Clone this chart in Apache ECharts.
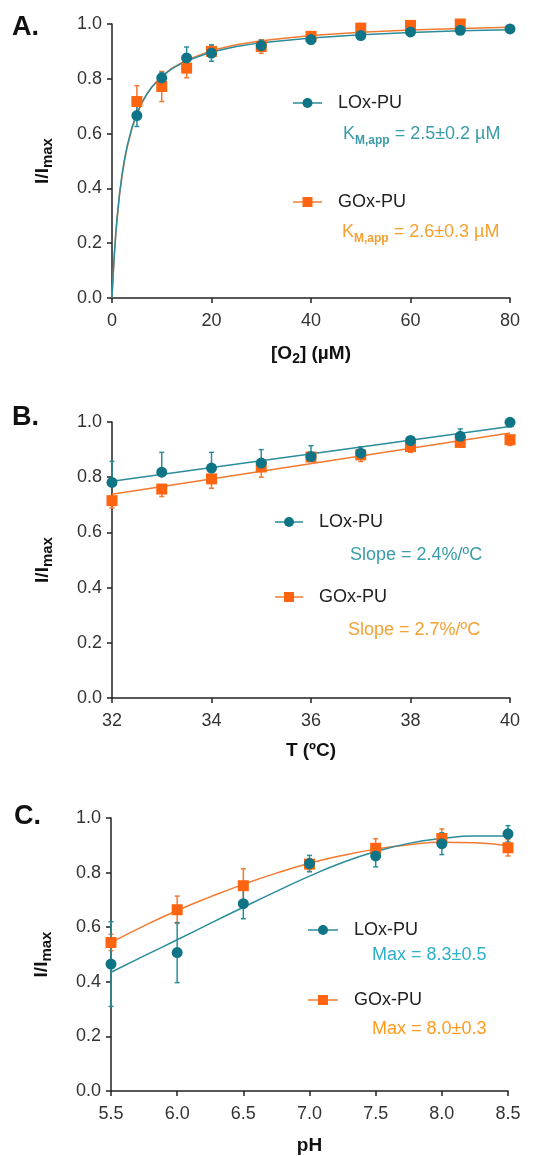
<!DOCTYPE html>
<html><head><meta charset="utf-8">
<script src="https://cdn.jsdelivr.net/npm/echarts@6/dist/echarts.min.js"></script>
<style>html,body{margin:0;padding:0;background:#fff}#c{width:543px;height:1156px}</style>
</head><body><div id="c"></div>
<script>
// ---------- Panel A: [O2] ----------
const aX_LOx = [5, 10, 15, 20, 30, 40, 50, 60, 70, 80];
const aY_LOx = [0.666, 0.803, 0.876, 0.894, 0.921, 0.943, 0.958, 0.971, 0.977, 0.982];
const aE_LOx = [0.04, 0.02, 0.04, 0.03, 0.02, 0.015, 0.01, 0.01, 0.01, 0.005];
const aX_GOx = [5, 10, 15, 20, 30, 40, 50, 60, 70];
const aY_GOx = [0.717, 0.772, 0.839, 0.900, 0.918, 0.955, 0.985, 0.995, 1.0];
const aE_GOx = [0.058, 0.055, 0.035, 0.02, 0.025, 0.01, 0.01, 0.01, 0.01];
const aFitX = [0, 0.1, 0.25, 0.5, 0.75, 1, 1.5, 2, 2.5, 3, 4, 5, 6, 7, 8, 10, 12, 15, 20, 25, 30, 40, 50, 60, 70, 80];
const aFit_LOx = [0, 0.039, 0.092, 0.168, 0.233, 0.289, 0.379, 0.449, 0.505, 0.551, 0.622, 0.673, 0.713, 0.744, 0.770, 0.808, 0.836, 0.866, 0.898, 0.918, 0.932, 0.949, 0.961, 0.969, 0.975, 0.979];
const aFit_GOx = [0, 0.038, 0.089, 0.165, 0.229, 0.283, 0.373, 0.443, 0.499, 0.546, 0.618, 0.671, 0.712, 0.743, 0.770, 0.810, 0.838, 0.869, 0.903, 0.924, 0.939, 0.958, 0.970, 0.978, 0.984, 0.988];

// ---------- Panel B: Temperature ----------
const bX = [32, 33, 34, 35, 36, 37, 38, 39, 40];
const bY_LOx = [0.781, 0.818, 0.833, 0.851, 0.875, 0.887, 0.933, 0.948, 0.999];
const bUp_LOx = [0.076, 0.072, 0.057, 0.049, 0.039, 0.023, 0.012, 0.027, 0];
const bY_GOx = [0.715, 0.757, 0.794, 0.837, 0.873, 0.881, 0.911, 0.926, 0.936];
const bDn_GOx = [0.027, 0.027, 0.034, 0.037, 0.01, 0.024, 0.021, 0.016, 0.021];
const bFitX = [32, 40];
const bFit_LOx = [0.785, 0.984];
const bFit_GOx = [0.738, 0.960];

// ---------- Panel C: pH ----------
const cX = [5.5, 6.0, 6.5, 7.0, 7.5, 8.0, 8.5];
const cY_LOx = [0.465, 0.507, 0.686, 0.833, 0.861, 0.906, 0.942];
const cE_LOx = [0.155, 0.11, 0.055, 0.03, 0.04, 0.04, 0.03];
const cY_GOx = [0.544, 0.664, 0.752, 0.831, 0.889, 0.925, 0.891];
const cE_GOx = [0.03, 0.05, 0.062, 0.02, 0.035, 0.035, 0.03];
const cFitX = [5.5, 5.75, 6.0, 6.25, 6.5, 6.75, 7.0, 7.25, 7.5, 7.75, 8.0, 8.25, 8.5];
const cFit_LOx = [0.435, 0.495, 0.554, 0.614, 0.673, 0.731, 0.787, 0.837, 0.877, 0.907, 0.925, 0.934, 0.934];
const cFit_GOx = [0.544, 0.605, 0.661, 0.711, 0.757, 0.798, 0.834, 0.863, 0.886, 0.902, 0.911, 0.909, 0.898];

const TEAL = '#0f7586', TEAL_LINE = '#2a8c9c', ORANGE = '#ff6410', ORANGE_LINE = '#f27a30';
const FONT = '"Liberation Sans", Arial, sans-serif';

function zip(xs, ys) { return xs.map((x, i) => [x, ys[i]]); }
function errData(xs, ys, up, dn) { return xs.map((x, i) => [x, ys[i], up[i], dn[i]]); }

function errSeries(gi, data, color) {
  return {
    type: 'custom', xAxisIndex: gi, yAxisIndex: gi, data: data, clip: false, z: 3,
    encode: { x: 0, y: 1 },
    renderItem: function (params, api) {
      const x = api.value(0), y = api.value(1), up = api.value(2), dn = api.value(3);
      const pTop = api.coord([x, y + up]), pBot = api.coord([x, y - dn]);
      const st = { stroke: color, lineWidth: 1.5 };
      const ch = [{ type: 'line', shape: { x1: pTop[0], y1: pTop[1], x2: pBot[0], y2: pBot[1] }, style: st }];
      if (up > 0) ch.push({ type: 'line', shape: { x1: pTop[0] - 2.5, y1: pTop[1], x2: pTop[0] + 2.5, y2: pTop[1] }, style: st });
      if (dn > 0) ch.push({ type: 'line', shape: { x1: pBot[0] - 2.5, y1: pBot[1], x2: pBot[0] + 2.5, y2: pBot[1] }, style: st });
      return { type: 'group', children: ch };
    }
  };
}
function fitSeries(gi, data, color, smooth) {
  return { type: 'line', xAxisIndex: gi, yAxisIndex: gi, data: data, showSymbol: false, symbol: 'none',
    smooth: smooth, lineStyle: { color: color, width: 1.5 }, z: 2, silent: true, animation: false };
}
function ptSeries(gi, data, color, symbol, z) {
  return { type: 'scatter', xAxisIndex: gi, yAxisIndex: gi, data: data, symbol: symbol, symbolSize: 11,
    itemStyle: { color: color, opacity: 1 }, z: z, animation: false };
}

const axisLine = { show: true, lineStyle: { color: '#222', width: 1.5 } };
const axisTick = { show: true, length: 5, lineStyle: { color: '#222', width: 1.5 } };
const tickLabel = { color: '#333', fontSize: 18, fontFamily: FONT };

function yAxis(gi) {
  return {
    type: 'value', gridIndex: gi, min: 0, max: 1, interval: 0.2,
    axisLine: axisLine, axisTick: axisTick, splitLine: { show: false },
    axisLabel: Object.assign({ margin: 10, formatter: v => v.toFixed(1) }, tickLabel),
    name: '{m|I/I}{s|max}', nameLocation: 'middle', nameRotate: 90, nameGap: 57,
    nameTextStyle: { rich: {
      m: { fontSize: 19, fontWeight: 'bold', fontFamily: FONT, color: '#111', verticalAlign: 'top', lineHeight: 22 },
      s: { fontSize: 15, fontWeight: 'bold', fontFamily: FONT, color: '#111', verticalAlign: 'bottom', lineHeight: 14 }
    } }
  };
}
function xAxis(gi, min, max, interval, name, gap, dec) {
  return {
    type: 'value', gridIndex: gi, min: min, max: max, interval: interval,
    axisLine: axisLine, axisTick: axisTick, splitLine: { show: false },
    axisLabel: Object.assign({ margin: 14, formatter: v => dec ? v.toFixed(1) : String(v) }, tickLabel),
    name: name, nameLocation: 'middle', nameGap: gap,
    nameTextStyle: { fontSize: 19, fontWeight: 'bold', fontFamily: FONT, color: '#111', rich: {
      s: { fontSize: 14, fontWeight: 'bold', fontFamily: FONT, color: '#111', verticalAlign: 'bottom', lineHeight: 12 },
      n: { fontSize: 19, fontWeight: 'bold', fontFamily: FONT, color: '#111', verticalAlign: 'top', lineHeight: 22 }
    } }
  };
}

function legendItem(x1, x2, y, color, lineColor, symbol, label) {
  const cx = (x1 + x2) / 2;
  return [
    { type: 'line', shape: { x1: x1, y1: y, x2: x2, y2: y }, style: { stroke: lineColor, lineWidth: 1.5 } },
    symbol === 'circle'
      ? { type: 'circle', shape: { cx: cx, cy: y, r: 5 }, style: { fill: color } }
      : { type: 'rect', shape: { x: cx - 5, y: y - 5, width: 10, height: 10 }, style: { fill: color } },
    { type: 'text', x: x2 + 16, y: y, style: { text: label, fill: '#222', font: '18px ' + FONT, verticalAlign: 'middle' } }
  ];
}
function kmText(x, y, color, value) {
  return { type: 'text', x: x, y: y, style: {
    text: '{k|K}{s|M,app}{r| = ' + value + '}', verticalAlign: 'middle',
    rich: {
      k: { fontSize: 18, fontFamily: FONT, fill: color, color: color, verticalAlign: 'top', lineHeight: 22 },
      s: { fontSize: 12, fontWeight: 'bold', fontFamily: FONT, fill: color, color: color, verticalAlign: 'bottom', lineHeight: 12 },
      r: { fontSize: 18, fontFamily: FONT, fill: color, color: color, verticalAlign: 'top', lineHeight: 22 }
    } } };
}
function plainText(x, y, color, txt) {
  return { type: 'text', x: x, y: y, style: { text: txt, fill: color, font: '18px ' + FONT, verticalAlign: 'middle' } };
}
function panelLabel(x, y, txt) {
  return { type: 'text', x: x, y: y, style: { text: txt, fill: '#111', font: 'bold 27px ' + FONT, verticalAlign: 'middle' } };
}

const chart = echarts.init(document.getElementById('c'), null, { renderer: 'canvas' });
chart.setOption({
  backgroundColor: '#fff',
  animation: false,
  grid: [
    { left: 112, top: 24, width: 398, height: 274 },
    { left: 112, top: 422, width: 398, height: 276 },
    { left: 111, top: 818, width: 397, height: 276 }
  ],
  xAxis: [
    xAxis(0, 0, 80, 20, '{n|[O}{s|2}{n|] (µM)}', 46, false),
    xAxis(1, 32, 40, 2, 'T (ºC)', 43, false),
    xAxis(2, 5.5, 8.5, 0.5, 'pH', 45, true)
  ],
  yAxis: [yAxis(0), yAxis(1), yAxis(2)],
  series: [
    // A
    fitSeries(0, zip(aFitX, aFit_GOx), ORANGE_LINE, false),
    fitSeries(0, zip(aFitX, aFit_LOx), TEAL_LINE, false),
    errSeries(0, errData(aX_GOx, aY_GOx, aE_GOx, aE_GOx), ORANGE_LINE),
    ptSeries(0, zip(aX_GOx, aY_GOx), ORANGE, 'rect', 4),
    errSeries(0, errData(aX_LOx, aY_LOx, aE_LOx, aE_LOx), TEAL_LINE),
    ptSeries(0, zip(aX_LOx, aY_LOx), TEAL, 'circle', 6),
    // B
    fitSeries(1, zip(bFitX, bFit_GOx), ORANGE_LINE, false),
    fitSeries(1, zip(bFitX, bFit_LOx), TEAL_LINE, false),
    errSeries(1, errData(bX, bY_GOx, bX.map(() => 0), bDn_GOx), ORANGE_LINE),
    ptSeries(1, zip(bX, bY_GOx), ORANGE, 'rect', 4),
    errSeries(1, errData(bX, bY_LOx, bUp_LOx, bX.map(() => 0)), TEAL_LINE),
    ptSeries(1, zip(bX, bY_LOx), TEAL, 'circle', 6),
    // C
    fitSeries(2, zip(cFitX, cFit_GOx), ORANGE_LINE, true),
    fitSeries(2, zip(cFitX, cFit_LOx), TEAL_LINE, true),
    errSeries(2, errData(cX, cY_GOx, cE_GOx, cE_GOx), ORANGE_LINE),
    ptSeries(2, zip(cX, cY_GOx), ORANGE, 'rect', 4),
    errSeries(2, errData(cX, cY_LOx, cE_LOx, cE_LOx), TEAL_LINE),
    ptSeries(2, zip(cX, cY_LOx), TEAL, 'circle', 6)
  ],
  graphic: [].concat(
    panelLabel(12, 28, 'A.'), panelLabel(12, 418, 'B.'), panelLabel(14, 817, 'C.'),
    legendItem(293, 322, 103, TEAL, TEAL_LINE, 'circle', 'LOx-PU'),
    [kmText(343, 136, '#3a9ca6', '2.5±0.2 µM')],
    legendItem(293, 322, 202, ORANGE, ORANGE_LINE, 'rect', 'GOx-PU'),
    [kmText(342, 234, '#f5a030', '2.6±0.3 µM')],
    legendItem(275, 303, 522, TEAL, TEAL_LINE, 'circle', 'LOx-PU'),
    [plainText(350, 555, '#3a9ca6', 'Slope = 2.4%/ºC')],
    legendItem(275, 303, 597, ORANGE, ORANGE_LINE, 'rect', 'GOx-PU'),
    [plainText(348, 630, '#f5a030', 'Slope = 2.7%/ºC')],
    legendItem(308, 338, 930, TEAL, TEAL_LINE, 'circle', 'LOx-PU'),
    [plainText(372, 955, '#2eb0c6', 'Max = 8.3±0.5')],
    legendItem(308, 338, 1000, ORANGE, ORANGE_LINE, 'rect', 'GOx-PU'),
    [plainText(372, 1029, '#ff9a1e', 'Max = 8.0±0.3')]
  )
});
</script></body></html>
